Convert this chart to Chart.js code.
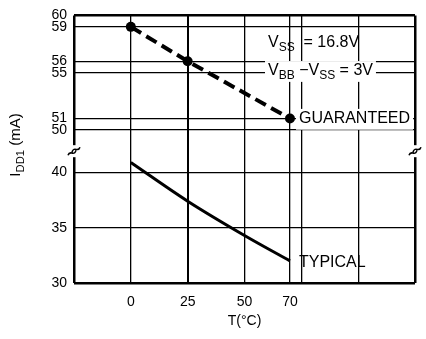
<!DOCTYPE html>
<html>
<head>
<meta charset="utf-8">
<script src="https://cdn.jsdelivr.net/npm/chart.js@4"></script>
<style>
  html, body { margin: 0; padding: 0; background: #fff; }
</style>
</head>
<body>
<canvas id="idd1Chart" width="426" height="339"></canvas>
<script>
(function () {
  'use strict';

  /* ── data ─────────────────────────────────────── */
  var guarTemps  = [0, 25, 70];
  var guaranteed = [59, 56, 51];
  var typTemps   = [0, 25, 50, 70];
  var typical    = [40.9, 37.4, 34.3, 32.0];
  var yTickVals  = [30, 35, 40, 50, 51, 55, 56, 59, 60];
  var xGridVals  = [-25, 0, 25, 50, 70, 75, 100, 125];
  var xTickLbls  = [0, 25, 50, 70];

  // broken y axis: the 40..50 range is squeezed out
  function brk(v) { return v < 45 ? v : 43.84 + (v - 50) * 1.036; }

  var FONT = "'Liberation Sans', Arial, sans-serif";

  function pts(xs, ys) {
    return xs.map(function (x, i) { return { x: x, y: brk(ys[i]) }; });
  }

  // text with subscripts: parts = [[text, isSub], ...]
  function richWidth(ctx, parts, size) {
    var w = 0;
    parts.forEach(function (p) {
      ctx.font = (p[1] ? size * 0.75 : size) + 'px ' + FONT;
      w += ctx.measureText(p[0]).width;
    });
    return w;
  }
  function drawRich(ctx, parts, x, y, size) {
    ctx.textBaseline = 'middle';
    ctx.textAlign = 'left';
    parts.forEach(function (p) {
      ctx.font = (p[1] ? size * 0.75 : size) + 'px ' + FONT;
      ctx.fillText(p[0], x, p[1] ? y + size * 0.3 : y);
      x += ctx.measureText(p[0]).width;
    });
  }
  function label(ctx, parts, x, y, size, bg) {
    var w = richWidth(ctx, parts, size);
    if (bg) {
      ctx.fillStyle = '#fff';
      ctx.fillRect(x - 3, y - size * 0.6, w + 6, size * 1.3);
    }
    ctx.fillStyle = '#000';
    drawRich(ctx, parts, x, y, size);
  }

  function squiggle(ctx, x, y) {
    ctx.fillStyle = '#fff';
    ctx.fillRect(x - 3, y - 6, 6, 12);
    ctx.beginPath();
    ctx.moveTo(x - 6, y + 4);
    ctx.bezierCurveTo(x - 4, y - 2, x, y + 6, x + 2, y - 1);
    ctx.moveTo(x - 2, y + 1);
    ctx.bezierCurveTo(x, y - 6, x + 4, y + 2, x + 6, y - 4);
    ctx.lineWidth = 1.5;
    ctx.strokeStyle = '#000';
    ctx.stroke();
  }

  var notes = {
    id: 'notes',
    afterDraw: function (chart) {
      var ctx = chart.ctx, xs = chart.scales.x, ys = chart.scales.y;
      ctx.save();
      label(ctx, [['V', 0], ['SS', 1], ['  = 16.8V', 0]], 268, 43, 16, false);
      label(ctx, [['V', 0], ['BB', 1], [' \u2212V', 0], ['SS', 1], [' = 3V', 0]], 268, ys.getPixelForValue(brk(55)) - 2, 16, true);
      label(ctx, [['GUARANTEED', 0]], xs.getPixelForValue(70) + 9, ys.getPixelForValue(brk(51)), 16, true);
      label(ctx, [['TYPICAL', 0]], xs.getPixelForValue(70) + 9, ys.getPixelForValue(brk(32)) + 2, 16, false);

      var yb = (ys.getPixelForValue(brk(40)) + ys.getPixelForValue(brk(50))) / 2;
      squiggle(ctx, chart.chartArea.left, yb);
      squiggle(ctx, chart.chartArea.right, yb);

      // y axis title, rotated
      ctx.translate(16, 145);
      ctx.rotate(-Math.PI / 2);
      var t = [['I', 0], ['DD1', 1], [' (mA)', 0]];
      ctx.fillStyle = '#000';
      drawRich(ctx, t, -richWidth(ctx, t, 15) / 2, 0, 15);
      ctx.restore();
    }
  };

  function edgeWidth(ctx, scale) {
    var v = ctx.tick && ctx.tick.value;
    if (v === scale.min || v === scale.max) return 2.5;
    return 1.3;
  }

  new Chart(document.getElementById('idd1Chart'), {
    type: 'line',
    data: {
      datasets: [
        {
          label: 'GUARANTEED',
          data: pts(guarTemps, guaranteed),
          borderColor: '#000',
          borderWidth: 4,
          borderDash: [12, 6],
          pointRadius: 5,
          pointBackgroundColor: '#000',
          pointBorderWidth: 0,
          tension: 0
        },
        {
          label: 'TYPICAL',
          data: pts(typTemps, typical),
          borderColor: '#000',
          borderWidth: 3,
          pointRadius: 0,
          cubicInterpolationMode: 'monotone'
        }
      ]
    },
    options: {
      responsive: false,
      animation: false,
      layout: { padding: { top: 12, right: 7, left: 0, bottom: 9 } },
      plugins: { legend: { display: false }, tooltip: { enabled: false } },
      scales: {
        x: {
          type: 'linear',
          min: -25, max: 125,
          afterBuildTicks: function (s) { s.ticks = xGridVals.map(function (v) { return { value: v }; }); },
          afterFit: function (s) { s.height = 47; },
          grid: {
            color: '#000',
            drawTicks: false,
            lineWidth: function (c) {
              if (c.tick && c.tick.value === 25) return 2;
              return edgeWidth(c, { min: -25, max: 125 });
            }
          },
          border: { display: false },
          ticks: {
            padding: 11,
            color: '#000',
            font: { family: FONT, size: 14 },
            autoSkip: false,
            maxRotation: 0,
            callback: function (v) { return xTickLbls.indexOf(v) >= 0 ? String(v) : ''; }
          },
          title: {
            display: true,
            text: 'T(\u00b0C)',
            color: '#000',
            font: { family: FONT, size: 14 },
            padding: { top: 2, bottom: 0 }
          }
        },
        y: {
          type: 'linear',
          min: brk(30), max: brk(60),
          afterBuildTicks: function (s) { s.ticks = yTickVals.map(function (v) { return { value: brk(v) }; }); },
          afterFit: function (s) { s.width = 74; },
          grid: {
            color: '#000',
            drawTicks: false,
            lineWidth: function (c) { return edgeWidth(c, { min: brk(30), max: brk(60) }); }
          },
          border: { display: false },
          ticks: {
            padding: 7,
            color: '#000',
            font: { family: FONT, size: 14 },
            autoSkip: false,
            callback: function (v, i) { return String(yTickVals[i]); }
          }
        }
      }
    },
    plugins: [notes]
  });
}());
</script>
</body>
</html>
